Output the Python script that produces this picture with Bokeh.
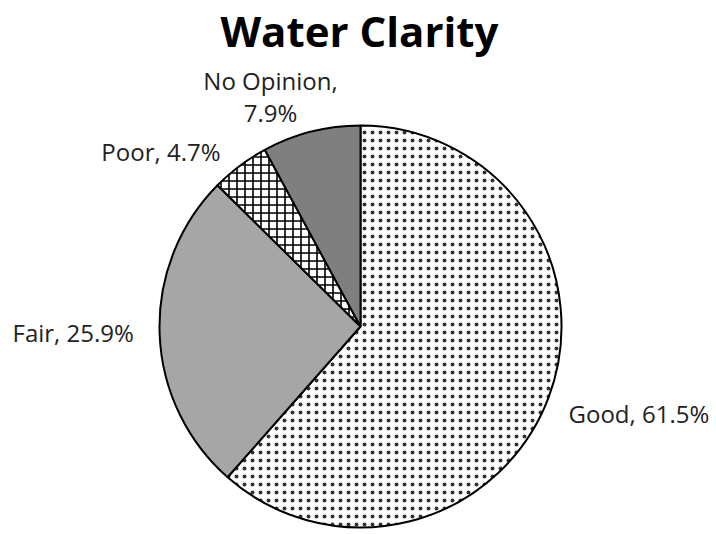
from bokeh.plotting import figure
from bokeh.models import Range1d, ColumnDataSource
from bokeh.core.properties import value
from bokeh.embed import file_html
from bokeh.resources import INLINE

# ---- data ----
title = "Water Clarity"
categories = ["Good", "Fair", "Poor", "No Opinion"]
percents = [61.5, 25.9, 4.7, 7.9]
fills = ["white", "#a6a6a6", "white", "#7f7f7f"]
hatches = ["dot", " ", "cross", " "]
hatch_weights = [0.85, 1, 1.6, 1]
hatch_scales = [8, 8, 8, 8]
hatch_colors = ["#333333", "black", "black", "black"]
label_sep = [", ", ", ", ", ", ",\n"]

# page-pixel coordinate system: x = page px, y = 534 - page px
W, H = 716, 534
p = figure(width=W, height=H, output_backend="svg", toolbar_location=None,
           x_range=Range1d(0, W), y_range=Range1d(0, H), min_border=0)
p.axis.visible = False
p.grid.visible = False
p.outline_line_color = None
p.background_fill_color = "white"
p.border_fill_color = "white"

cx, cy, r = 360, H - 326, 201
total = sum(percents)
starts, ends = [], []
acc = 0.0
for v in percents:
    starts.append(90 - acc / total * 360)
    acc += v
    ends.append(90 - acc / total * 360)

src = ColumnDataSource(dict(x=[cx] * 4, y=[cy] * 4, start=starts, end=ends,
                            fill=fills, hatch=hatches, hw=hatch_weights,
                            hs=hatch_scales, hc=hatch_colors))
p.wedge(x="x", y="y", radius=r, start_angle="start", end_angle="end",
        start_angle_units="deg", end_angle_units="deg", direction="clock",
        fill_color="fill", line_color="black", line_width=2,
        hatch_pattern="hatch", hatch_color="hc", hatch_scale="hs",
        hatch_weight="hw", source=src)

# labels (positions in page px)
lab_x = [568, 12, 220, 270]
lab_y = [413, 332, 151, 96]
lab_align = ["left", "left", "right", "center"]
texts = [f"{c}{s}{v}%" for c, s, v in zip(categories, label_sep, percents)]
lsrc = ColumnDataSource(dict(x=lab_x, y=[H - y for y in lab_y], t=texts,
                             a=lab_align))
p.text(x="x", y="y", text="t", text_align="a", text_baseline="middle",
       text_font=value("Open Sans"), text_font_size="24px",
       text_color="#222222", text_line_height=0.97, source=lsrc)

p.text(x=[359], y=[H - 30], text=[title], text_align="center",
       text_baseline="middle", text_font=value("Open Sans"),
       text_font_style="bold", text_font_size="42px", text_color="black")

open("out.html", "w").write(file_html(p, INLINE))
